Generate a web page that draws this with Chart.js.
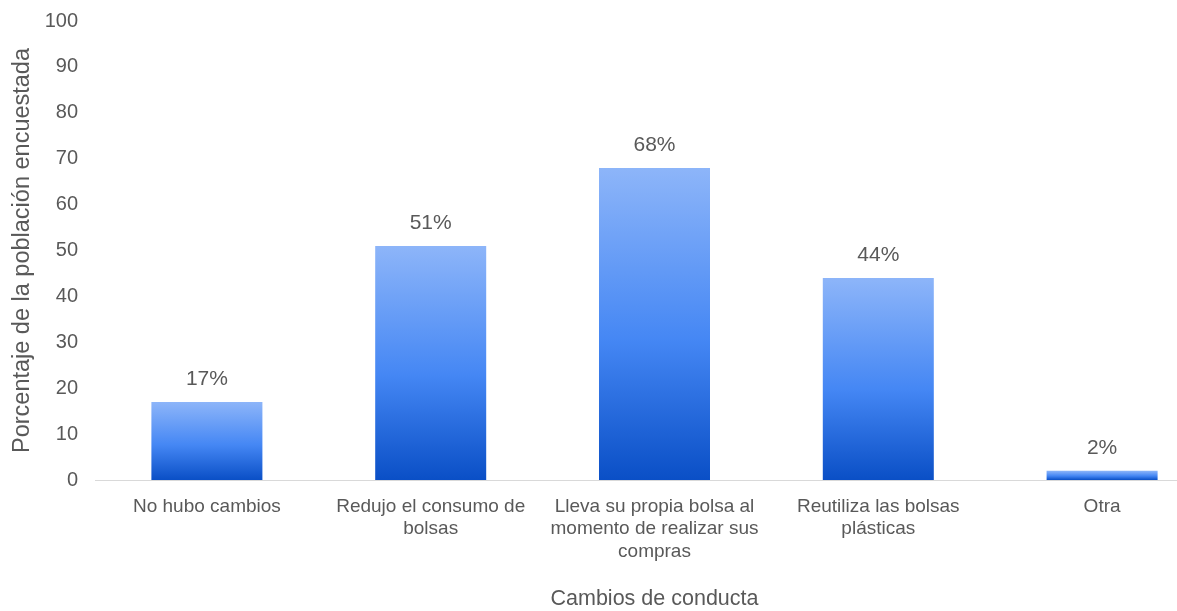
<!DOCTYPE html>
<html>
<head>
<meta charset="utf-8">
<script src="https://cdn.jsdelivr.net/npm/chart.js@4"></script>
<style>
  html, body { margin: 0; padding: 0; background: #fff; overflow: hidden; }
  #wrap { width: 1214px; height: 611px; }
</style>
</head>
<body>
<div id="wrap"><canvas id="conductaChart"></canvas></div>
<script>
// Categories (wrapped as in the axis) and percentages
const categories = [
    ['No hubo cambios'],
    ['Redujo el consumo de', 'bolsas'],
    ['Lleva su propia bolsa al', 'momento de realizar sus', 'compras'],
    ['Reutiliza las bolsas', 'plásticas'],
    ['Otra']
];
const percentages = [17, 51, 68, 44, 2];
const yTicks = [0, 10, 20, 30, 40, 50, 60, 70, 80, 90, 100];

const textColor = '#595959';
const fontFamily = '"Liberation Sans", Arial, sans-serif';

// Each bar gets its own vertical gradient, light at the top and dark at the base
function barGradient(ctx) {
    const chart = ctx.chart;
    if (!chart.chartArea || !chart.scales.y) return '#4285f4';
    const y = chart.scales.y;
    const top = y.getPixelForValue(ctx.raw);
    const bottom = y.getPixelForValue(0);
    const g = chart.ctx.createLinearGradient(0, top, 0, bottom);
    g.addColorStop(0, '#8db5f9');
    g.addColorStop(0.55, '#4587f4');
    g.addColorStop(1, '#0a4fc6');
    return g;
}

// Percentage labels above the bars
const valueLabels = {
    id: 'valueLabels',
    afterDatasetsDraw(chart) {
        const ctx = chart.ctx;
        const meta = chart.getDatasetMeta(0);
        ctx.save();
        ctx.font = '21px ' + fontFamily;
        ctx.fillStyle = textColor;
        ctx.textAlign = 'center';
        ctx.textBaseline = 'alphabetic';
        meta.data.forEach((bar, i) => {
            ctx.fillText(percentages[i] + '%', bar.x, bar.y - 17);
        });
        ctx.restore();
    }
};

const ctx = document.getElementById('conductaChart').getContext('2d');
new Chart(ctx, {
    type: 'bar',
    data: {
        labels: categories,
        datasets: [{
            data: percentages,
            backgroundColor: barGradient,
            borderWidth: 0,
            barPercentage: 1,
            categoryPercentage: 0.496
        }]
    },
    options: {
        responsive: true,
        maintainAspectRatio: false,
        animation: false,
        layout: { padding: { top: 21, right: 0, bottom: 0, left: 0 } },
        plugins: {
            legend: { display: false },
            tooltip: { enabled: false }
        },
        scales: {
            x: {
                grid: { display: false, drawTicks: false },
                border: { display: true, color: '#d9d9d9', width: 1 },
                ticks: {
                    color: textColor,
                    font: { family: fontFamily, size: 19, lineHeight: 1.2 },
                    padding: 15,
                    maxRotation: 0,
                    autoSkip: false
                },
                title: {
                    display: true,
                    text: 'Cambios de conducta',
                    color: textColor,
                    font: { family: fontFamily, size: 21.5, lineHeight: 1.1 },
                    padding: { top: 0, bottom: 0 }
                },
                afterFit(scale) { scale.height = 131; }
            },
            y: {
                min: 0,
                max: 100,
                afterBuildTicks(scale) { scale.ticks = yTicks.map(v => ({ value: v })); },
                grid: { display: false, drawTicks: false },
                border: { display: false },
                ticks: {
                    color: textColor,
                    font: { family: fontFamily, size: 20 },
                    padding: 17
                },
                title: {
                    display: true,
                    text: 'Porcentaje de la población encuestada',
                    color: textColor,
                    font: { family: fontFamily, size: 23.5 },
                    padding: { top: 8, bottom: 0 }
                },
                afterFit(scale) {
                    scale.width = 95;
                    // the tick padding would otherwise push the plot area down
                    scale.paddingTop = 0;
                    scale.paddingBottom = 0;
                }
            }
        }
    },
    plugins: [valueLabels]
});
</script>
</body>
</html>
